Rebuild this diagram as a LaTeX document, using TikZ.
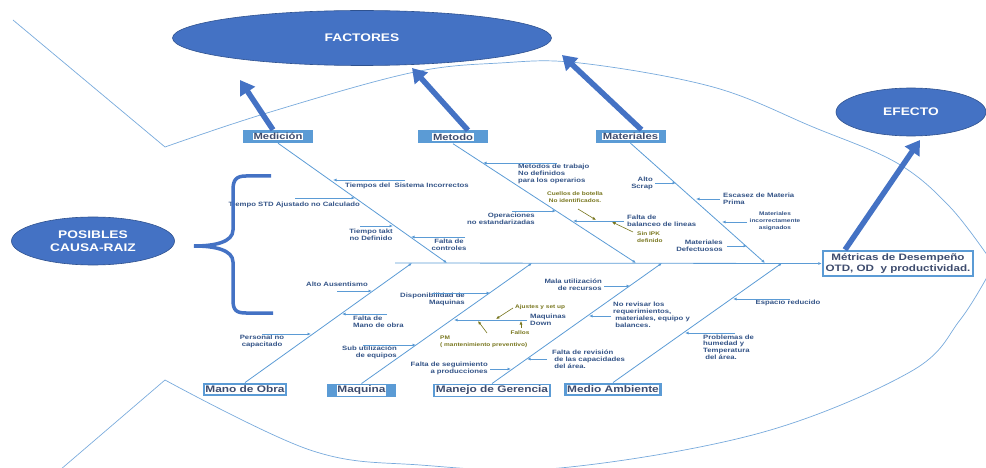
\documentclass[tikz,border=0pt]{standalone}
\usepackage{fontspec}
\setmainfont[FakeStretch=1.25]{Liberation Sans}
\usepackage{tikz}
\usetikzlibrary{arrows.meta,shapes.geometric}

\definecolor{ovalblue}{RGB}{68,114,196}
\definecolor{ovaledge}{RGB}{47,82,143}
\definecolor{boxblue}{RGB}{91,155,213}
\definecolor{lineblue}{RGB}{91,155,213}
\definecolor{fishblue}{RGB}{120,170,220}
\definecolor{lbltext}{RGB}{52,84,135}
\definecolor{boxtext}{RGB}{62,76,110}
\definecolor{olivetext}{RGB}{120,118,30}
\setlength{\fboxsep}{0.6pt}
\newcommand\lblfont{\bfseries\fontsize{6.2}{6.8}\selectfont}
\newcommand\slblfont{\bfseries\fontsize{5.2}{7}\selectfont}
\newcommand\olblfont{\bfseries\fontsize{5.2}{6.5}\selectfont}

\begin{document}
\begin{tikzpicture}[
  x=1pt,y=-1pt,
  >={Latex[length=3.5pt,width=3pt]},
  oval/.style={ellipse,fill=ovalblue,draw=ovaledge,line width=0.6,text=white,align=center,inner sep=0,font=\bfseries\fontsize{11}{12.5}\selectfont},
  topcat/.style={fill=boxblue,inner sep=0,minimum width=70,minimum height=13,text=boxtext,font=\bfseries\fontsize{9}{10}\selectfont},
  botcat/.style={fill=boxblue,inner sep=0,minimum height=13.5,text=boxtext,font=\bfseries\fontsize{9.5}{11}\selectfont},
  effbox/.style={draw=boxblue,line width=2.5,fill=white,inner sep=0,minimum width=150,minimum height=25,align=center,text=boxtext,font=\bfseries\fontsize{9.3}{10.5}\selectfont},
  bone/.style={draw=lineblue,line width=0.8,->},
  cause/.style={draw=lineblue,line width=0.7,->},
  sub/.style={draw=olivetext,line width=0.6,->},
  lbl/.style={text=lbltext,inner sep=0,font=\lblfont},
  slbl/.style={text=lbltext,inner sep=0,font=\slblfont},
  olbl/.style={text=olivetext,inner sep=0,font=\olblfont},
  bigarrow/.style={draw=ovalblue,line width=5.5,-{Triangle[width=17pt,length=14pt]}},
  fish/.style={draw=fishblue,line width=0.7}
]
\useasboundingbox (0,0) rectangle (986,468);

% fish outline
\draw[fish] (13,20) -- (165,147);
\draw[fish] plot[smooth,tension=0.6] coordinates {(165,147) (267,113) (410,73) (500,63) (580,63) (713,87) (813,127) (897,163) (950,207) (992,262)};
\draw[fish] plot[smooth,tension=0.6] coordinates {(165,380) (310,450) (420,465) (560,468) (760,433) (910,372) (960,320) (992,268)};
\draw[fish] (165,380) -- (60,470);

% ovals and effect
\node[oval,minimum width=379,minimum height=55] (fac) at (362,38) {FACTORES};
\node[oval,minimum width=150,minimum height=48] (efe) at (911,112) {EFECTO};
\node[oval,minimum width=163,minimum height=48] (pos) at (93,241) {POSIBLES\\CAUSA-RAIZ};
\node[effbox] (metr) at (898,263.5) {Métricas de Desempeño\\OTD, OD\ \ y productividad.};

% categories
\node[topcat] (med) at (278,136.5) {\colorbox{white}{Medición}};
\node[topcat] (met) at (453,137) {\colorbox{white}{Metodo}};
\node[topcat] (mat) at (630.5,136.5) {\colorbox{white}{Materiales}};
\node[botcat,minimum width=84] (mob) at (245,389.5) {\colorbox{white}{Mano de Obra}};
\node[botcat,minimum width=69] (maq) at (361.5,390.5) {\colorbox{white}{Maquina}};
\node[botcat,minimum width=118] (ger) at (492,390.5) {\colorbox{white}{Manejo de Gerencia}};
\node[botcat,minimum width=98] (amb) at (613,389.5) {\colorbox{white}{Medio Ambiente}};

% spine and bones
\coordinate (head0) at (395,263);
\draw[bone] (head0) -- (metr.west);
\coordinate (sMed) at (447,263);
\coordinate (sMet) at (636,263);
\coordinate (sMat) at (765,263);
\coordinate (sMob) at (412,263);
\coordinate (sMaq) at (532,263);
\coordinate (sGer) at (662,263);
\coordinate (sAmb) at (782,263);
\draw[bone] (med.south) -- (sMed);
\draw[bone] (met.south) -- (sMet);
\draw[bone] (mat.south) -- (sMat);
\draw[bone] (mob.north) -- (sMob);
\draw[bone] (maq.north) -- (sMaq);
\draw[bone] (ger.north) -- (sGer);
\draw[bone] (amb.north) -- (sAmb);

% big arrows
\coordinate (aMed) at (240,80);
\coordinate (aMet) at (412,68);
\coordinate (aMat) at (562,55);
\coordinate (aEfe) at (920,140);
\draw[bigarrow] ([xshift=-5]med.north) -- (aMed);
\draw[bigarrow] ([xshift=15]met.north) -- (aMet);
\draw[bigarrow] ([xshift=11]mat.north) -- (aMat);
\draw[bigarrow] ([xshift=-53]metr.north) -- (aEfe);

% Medicion
\node[lbl,anchor=west] (m1) at (345,186) {Tiempos del\ \ Sistema Incorrectos};
\node[lbl,anchor=east] (m2) at (360,205) {Tiempo STD Ajustado no Calculado};
\node[lbl,align=center] (m3) at (371,234.5) {Tiempo takt\\no Definido};
\node[lbl,align=center] (m4) at (449,245) {Falta de\\controles};
\coordinate (m1a) at (405,180); \coordinate (m1b) at (333,180);
\coordinate (m2a) at (295,198); \coordinate (m2b) at (355,198);
\coordinate (m3a) at (360,226); \coordinate (m3b) at (393,226);
\coordinate (m4a) at (465,237); \coordinate (m4b) at (411,237);
\draw[cause] (m1a) -- (m1b);
\draw[cause] (m2a) -- (m2b);
\draw[cause] (m3a) -- (m3b);
\draw[cause] (m4a) -- (m4b);

% Metodo
\node[lbl,align=left,anchor=west] (t1) at (518,174) {Metodos de trabajo\\No definidos\\para los operarios};
\node[lbl,align=right,anchor=east] (t2) at (535,219) {Operaciones\\no estandarizadas};
\node[lbl,align=left,anchor=west] (t3) at (627,221) {Falta de\\balanceo de lineas};
\node[olbl,align=center] (t4) at (575,197) {Cuellos de botella\\No identificados.};
\node[olbl,align=left,anchor=west] (t5) at (637,237) {Sin IPK\\definido};
\coordinate (t1a) at (557,163); \coordinate (t1b) at (483,163);
\coordinate (t2a) at (512,211); \coordinate (t2b) at (556,211);
\coordinate (t3a) at (624,221); \coordinate (t3b) at (573,221);
\coordinate (t4a) at (578,209); \coordinate (t4b) at (596,220);
\coordinate (t5a) at (633,232); \coordinate (t5b) at (612,222);
\draw[cause] (t1a) -- (t1b);
\draw[cause] (t2a) -- (t2b);
\draw[cause] (t3a) -- (t3b);
\draw[sub] (t4a) -- (t4b);
\draw[sub] (t5a) -- (t5b);

% Materiales
\node[lbl,align=right,anchor=east] (r1) at (653,183) {Alto\\Scrap};
\node[lbl,align=left,anchor=west] (r2) at (723,199) {Escasez de Materia\\Prima};
\node[slbl,align=center] (r3) at (775,221) {Materiales\\incorrectamente\\asignados};
\node[lbl,align=right,anchor=east] (r4) at (723,246) {Materiales\\Defectuosos};
\coordinate (r1a) at (655,183); \coordinate (r1b) at (676,183);
\coordinate (r2a) at (720,199); \coordinate (r2b) at (696,199);
\coordinate (r3a) at (747,222); \coordinate (r3b) at (722,222);
\coordinate (r4a) at (727,246); \coordinate (r4b) at (747,246);
\draw[cause] (r1a) -- (r1b);
\draw[cause] (r2a) -- (r2b);
\draw[cause] (r3a) -- (r3b);
\draw[cause] (r4a) -- (r4b);

% Mano de Obra
\node[lbl] (o1) at (337,284) {Alto Ausentismo};
\node[lbl,align=left,anchor=west] (o2) at (353,321.5) {Falta de\\Mano de obra};
\node[lbl,align=center] (o3) at (262,341.5) {Personal no\\capacitado};
\coordinate (o1a) at (337,291); \coordinate (o1b) at (372,291);
\coordinate (o2a) at (387,314); \coordinate (o2b) at (342,314);
\coordinate (o3a) at (262,334); \coordinate (o3b) at (311,334);
\draw[cause] (o1a) -- (o1b);
\draw[cause] (o2a) -- (o2b);
\draw[cause] (o3a) -- (o3b);

% Maquina
\node[lbl,align=right,anchor=east] (q1) at (465,299.5) {Disponibilidad de\\Maquinas};
\node[lbl,align=left,anchor=west] (q2) at (530,319.5) {Maquinas\\Down};
\node[olbl,anchor=west] (q3) at (515,307) {Ajustes y set up};
\node[olbl] (q4) at (520,333) {Fallos};
\node[olbl,align=left,anchor=west] (q5) at (440,342) {PM\\( mantenimiento preventivo)};
\node[lbl,align=right,anchor=east] (q6) at (397,352) {Sub utilización\\de equipos};
\coordinate (q1a) at (432,293); \coordinate (q1b) at (490,293);
\coordinate (q2a) at (527,320); \coordinate (q2b) at (454,320);
\coordinate (q3a) at (513,308); \coordinate (q3b) at (496,319);
\coordinate (q4a) at (521,328); \coordinate (q4b) at (521,321);
\coordinate (q5a) at (487,333); \coordinate (q5b) at (478,321);
\coordinate (q6a) at (363,345); \coordinate (q6b) at (416,345);
\draw[cause] (q1a) -- (q1b);
\draw[cause] (q2a) -- (q2b);
\draw[sub] (q3a) -- (q3b);
\draw[sub] (q4a) -- (q4b);
\draw[sub] (q5a) -- (q5b);
\draw[cause] (q6a) -- (q6b);

% Manejo de Gerencia
\node[lbl,align=right,anchor=east] (g1) at (602,285) {Mala utilización\\de recursos};
\node[lbl,align=left,anchor=north west] (g2) at (613,302) {No revisar los\\requerimientos,\\\ materiales, equipo y\\\ balances.};
\node[lbl,align=left,anchor=west] (g3) at (552,359) {Falta de revisión\\\ de las capacidades\\\ del área.};
\node[lbl,align=right,anchor=east] (g4) at (488,368.5) {Falta de seguimiento\\a producciones};
\coordinate (g1a) at (604,286); \coordinate (g1b) at (630,286);
\coordinate (g2a) at (611,316); \coordinate (g2b) at (589,316);
\coordinate (g3a) at (547,359); \coordinate (g3b) at (527,359);
\coordinate (g4a) at (490,369); \coordinate (g4b) at (511,369);
\draw[cause] (g1a) -- (g1b);
\draw[cause] (g2a) -- (g2b);
\draw[cause] (g3a) -- (g3b);
\draw[cause] (g4a) -- (g4b);

% Medio Ambiente
\node[lbl] (e1) at (788,303) {Espacio reducido};
\node[lbl,align=left,anchor=west] (e2) at (703,347) {Problemas de\\humedad y\\Temperatura\\\ del área.};
\coordinate (e1a) at (790,299); \coordinate (e1b) at (733,299);
\coordinate (e2a) at (735,333); \coordinate (e2b) at (685,333);
\draw[cause] (e1a) -- (e1b);
\draw[cause] (e2a) -- (e2b);

% brace
\draw[ovalblue,line width=3.5] (271,176) -- (246,176) .. controls (236,176) and (233,180) .. (233,190) -- (233,230) .. controls (233,242) and (215,246) .. (194,246) .. controls (215,246) and (233,250) .. (233,262) -- (233,300) .. controls (233,310) and (236,313) .. (246,313) -- (273,313);
\end{tikzpicture}
\end{document}
